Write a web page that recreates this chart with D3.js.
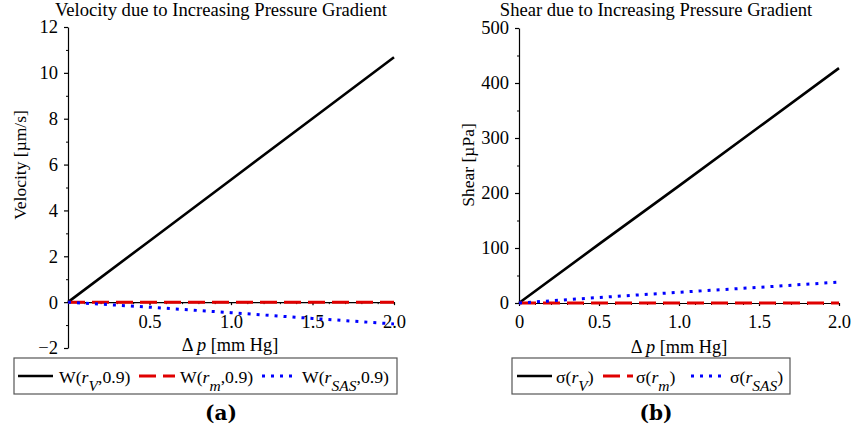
<!DOCTYPE html>
<html>
<head>
<meta charset="utf-8">
<script src="https://cdn.jsdelivr.net/npm/d3@7"></script>
<style>
  html, body { margin: 0; padding: 0; background: #fff; }
  svg { display: block; }
</style>
</head>
<body>
<svg id="fig" width="855" height="446"></svg>
<script>
// Pressure difference samples [mm Hg]
const dp = [0, 0.5, 1.0, 1.5, 2.0];

// Panel (a): velocity [µm/s]
const velV   = [0, 2.67, 5.34, 8.01, 10.68];
const velM   = [0, 0, 0, 0, 0];
const velSAS = [0, -0.22, -0.46, -0.71, -0.95];

// Panel (b): shear [µPa]
const shearV   = [0, 107, 213, 320, 427];
const shearM   = [0, 0, 0, 0, 0];
const shearSAS = [0, 10, 19.5, 28.5, 38];

// Tick values
const xTicksA = [0.5, 1.0, 1.5, 2.0];
const yTicksA = [-2, 0, 2, 4, 6, 8, 10, 12];
const xTicksB = [0, 0.5, 1.0, 1.5, 2.0];
const yTicksB = [0, 100, 200, 300, 400, 500];

const FONT = "'Liberation Serif', 'Times New Roman', Times, 'DejaVu Serif', serif";
const CAPTION_FONT = "'DejaVu Serif', 'Liberation Serif', serif";

const svg = d3.select("#fig");

const styles = {
  V:   { color: "#000000", dash: null,   width: 2.6 },
  M:   { color: "#e00000", dash: "17,7", width: 3 },
  SAS: { color: "#0000ff", dash: "3,6",  width: 3 }
};

function panel(cfg) {
  const g = svg.append("g").attr("font-family", FONT);
  const x = d3.scaleLinear().domain([0, 2]).range([cfg.x0, cfg.x1]);
  const y = d3.scaleLinear().domain(cfg.yDomain).range([cfg.yBottom, cfg.yTop]);

  // y axis: major and minor ticks
  g.append("g")
    .attr("transform", `translate(${cfg.x0},0)`)
    .call(d3.axisLeft(y).tickValues(cfg.yMinor).tickSize(2).tickFormat(""))
    .call(a => a.select(".domain").remove());
  g.append("g")
    .attr("transform", `translate(${cfg.x0},0)`)
    .call(d3.axisLeft(y).tickValues(cfg.yTicks).tickSize(4).tickSizeOuter(0).tickPadding(6).tickFormat(d3.format("d")))
    .call(a => a.selectAll("text").style("font-family", FONT).style("font-size", "18.5px"))
    .call(a => a.selectAll("line, path").attr("stroke", "#000").attr("stroke-width", 1.2));

  // x axis along zero
  const y0 = y(0);
  const minorX = d3.range(0, 21).map(i => i / 10);
  g.append("g")
    .attr("transform", `translate(0,${y0})`)
    .call(d3.axisBottom(x).tickValues(minorX).tickSize(2).tickFormat(""))
    .call(a => a.select(".domain").remove())
    .call(a => a.selectAll("line").attr("stroke", "#000"));
  g.append("g")
    .attr("transform", `translate(0,${y0})`)
    .call(d3.axisBottom(x).tickValues(cfg.xTicks).tickSize(3).tickSizeOuter(0).tickPadding(cfg.xPad).tickFormat(d => d === 0 ? "0" : d.toFixed(1)))
    .call(a => a.selectAll("text").style("font-family", FONT).style("font-size", "18.5px"))
    .call(a => a.selectAll("line, path").attr("stroke", "#000").attr("stroke-width", 1.2));

  // series lines
  const line = d3.line().x((d, i) => x(dp[i])).y(d => y(d));
  cfg.series.forEach(s => {
    const st = styles[s.key];
    g.append("path")
      .datum(s.values)
      .attr("d", line)
      .attr("fill", "none")
      .attr("stroke", st.color)
      .attr("stroke-width", st.width)
      .attr("stroke-dasharray", st.dash);
  });

  // title
  g.append("text")
    .attr("x", cfg.titleX).attr("y", 16)
    .attr("text-anchor", "middle")
    .style("font-size", "18.6px")
    .text(cfg.title);

  // y label
  g.append("text")
    .attr("transform", `translate(${cfg.yLabelX},${cfg.yLabelY}) rotate(-90)`)
    .attr("text-anchor", "middle")
    .style("font-size", "17.5px")
    .text(cfg.yLabel);

  // x label
  const xl = g.append("text")
    .attr("x", cfg.xLabelX).attr("y", cfg.xLabelY)
    .attr("text-anchor", "middle")
    .style("font-size", "18.3px");
  xl.append("tspan").text("\u0394 ");
  xl.append("tspan").style("font-style", "italic").text("p");
  xl.append("tspan").text(" [mm Hg]");

  // legend box
  g.append("rect")
    .attr("x", cfg.legend.x).attr("y", 358)
    .attr("width", cfg.legend.w).attr("height", 36)
    .attr("fill", "#fff").attr("stroke", "#555").attr("stroke-width", 1.2);

  cfg.legend.items.forEach(it => {
    const st = styles[it.key];
    g.append("line")
      .attr("x1", it.lx1).attr("x2", it.lx2)
      .attr("y1", 376).attr("y2", 376)
      .attr("stroke", st.color)
      .attr("stroke-width", st.width)
      .attr("stroke-dasharray", st.key === "M" ? "13,5" : st.dash);
    const t = g.append("text")
      .attr("x", it.tx).attr("y", 383)
      .style("font-size", "17.7px");
    t.append("tspan").text(cfg.legend.fn + "(");
    t.append("tspan").style("font-style", "italic").text("r");
    t.append("tspan").style("font-style", "italic").style("font-size", "15.5px").attr("dy", 8).text(it.sub);
    t.append("tspan").attr("dy", -8).text(cfg.legend.tail);
  });

  // panel caption
  g.append("text")
    .attr("x", cfg.titleX).attr("y", 420)
    .attr("text-anchor", "middle")
    .style("font-family", CAPTION_FONT)
    .style("font-size", "20px").style("font-weight", "bold")
    .text(cfg.caption);
}

panel({
  x0: 68, x1: 394, yTop: 27, yBottom: 348, yDomain: [-2, 12],
  yTicks: yTicksA, yMinor: d3.range(-1, 12, 2), xTicks: xTicksA, xPad: 10,
  series: [
    { key: "V", values: velV },
    { key: "M", values: velM },
    { key: "SAS", values: velSAS }
  ],
  title: "Velocity due to Increasing Pressure Gradient", titleX: 221,
  yLabel: "Velocity [\u00b5m/s]", yLabelX: 26, yLabelY: 165,
  xLabelX: 230, xLabelY: 351,
  legend: {
    x: 14, w: 383, fn: "W", tail: ",0.9)",
    items: [
      { key: "V",   sub: "V",   lx1: 18,  lx2: 53,  tx: 59 },
      { key: "M",   sub: "m",   lx1: 139, lx2: 175, tx: 180 },
      { key: "SAS", sub: "SAS", lx1: 262, lx2: 297, tx: 302 }
    ]
  },
  caption: "(a)"
});

panel({
  x0: 519, x1: 839, yTop: 28, yBottom: 303, yDomain: [0, 500],
  yTicks: yTicksB, yMinor: d3.range(50, 500, 100), xTicks: xTicksB, xPad: 9,
  series: [
    { key: "V", values: shearV },
    { key: "M", values: shearM },
    { key: "SAS", values: shearSAS }
  ],
  title: "Shear due to Increasing Pressure Gradient", titleX: 656,
  yLabel: "Shear [\u00b5Pa]", yLabelX: 474, yLabelY: 165,
  xLabelX: 679, xLabelY: 353,
  legend: {
    x: 512, w: 278, fn: "\u03c3", tail: ")",
    items: [
      { key: "V",   sub: "V",   lx1: 517, lx2: 552, tx: 556 },
      { key: "M",   sub: "m",   lx1: 603, lx2: 633, tx: 636 },
      { key: "SAS", sub: "SAS", lx1: 691, lx2: 727, tx: 730 }
    ]
  },
  caption: "(b)"
});
</script>
</body>
</html>
